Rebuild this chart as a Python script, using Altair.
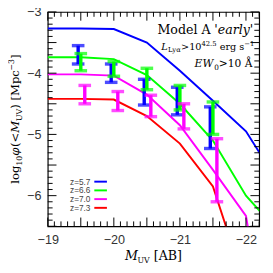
import altair as alt
import pandas as pd
import numpy as np

# ---------------- data ----------------
z_names = ["z=5.7", "z=6.6", "z=7.0", "z=7.3"]
colors = ["#0000ff", "#00ff00", "#ff00ff", "#ff0000"]

M_model = [-19.0, -19.5, -20.0, -20.5, -21.0, -21.5, -22.0, -22.5]
phi_z57 = [-3.27, -3.27, -3.28, -3.50, -3.96, -4.45, -4.95, -5.80]
phi_z66 = [-3.74, -3.74, -3.77, -4.03, -4.50, -5.10, -6.00, -6.60]
phi_z70 = [-4.02, -4.02, -4.04, -4.35, -4.85, -5.58, -6.33, -9.50]
phi_z73 = [-4.42, -4.42, -4.43, -4.70, -5.15, -5.85, -7.50, -9.50]

obs_M_z57 = [-19.46, -19.96, -20.46, -20.96, -21.46]
obs_lo_z57 = [-3.85, -4.15, -4.52, -4.68, -5.23]
obs_hi_z57 = [-3.55, -3.85, -4.10, -4.23, -4.55]

obs_M_z66 = [-19.50, -20.00, -20.50, -21.00, -21.50]
obs_lo_z66 = [-3.96, -4.05, -4.27, -4.60, -5.00]
obs_hi_z66 = [-3.68, -3.81, -3.92, -4.20, -4.47]

obs_M_z70 = [-19.56, -20.06, -20.56, -21.06, -21.56]
obs_lo_z70 = [-4.50, -4.61, -4.71, -4.91, -6.10]
obs_hi_z70 = [-4.20, -4.30, -4.36, -4.50, -5.07]

x_tick_labels = [-19, -20, -21, -22]
y_tick_labels = [-3, -4, -5, -6]

# ---------------- layout ----------------
W, H = 218, 221
SERIF = "DejaVu Serif"
SANS = "Liberation Sans"

xs = alt.Scale(domain=[-22.2, -19], reverse=True, nice=False, zero=False)
ys = alt.Scale(domain=[-6.5, -3], nice=False, zero=False)

x_axis = alt.Axis(values=x_tick_labels, ticks=False, domain=False, grid=False, title=None,
                  labelFont=SANS, labelFontSize=13, labelColor="#333", labelPadding=8,
                  labelFlush=False, format="d")
y_axis = alt.Axis(values=y_tick_labels, ticks=False, domain=False, grid=False, title=None,
                  labelFont=SANS, labelFontSize=13, labelColor="#333", labelPadding=7,
                  labelFlushOffset=-1.5, format="d")


def X(f):
    return alt.X(f, type="quantitative", scale=xs, axis=x_axis)


def Y(f):
    return alt.Y(f, type="quantitative", scale=ys, axis=y_axis)


color_scale = alt.Scale(domain=z_names, range=colors)

# model lines
rows = []
for name, vals in zip(z_names, [phi_z57, phi_z66, phi_z70, phi_z73]):
    for m, p in zip(M_model, vals):
        rows.append({"M": m, "phi": p, "z": name})
df_lines = pd.DataFrame(rows)

lines = alt.Chart(df_lines).mark_line(clip=True, strokeWidth=2).encode(
    x=X("M"), y=Y("phi"),
    color=alt.Color("z:N", scale=color_scale, legend=None),
    order=alt.Order("M:Q", sort="descending"),
)

# error bars
layers = [lines]
for name, col, mm, lo, hi in [
    (z_names[0], colors[0], obs_M_z57, obs_lo_z57, obs_hi_z57),
    (z_names[1], colors[1], obs_M_z66, obs_lo_z66, obs_hi_z66),
    (z_names[2], colors[2], obs_M_z70, obs_lo_z70, obs_hi_z70),
]:
    d = pd.DataFrame({"M": mm, "lo": lo, "hi": hi})
    layers.append(alt.Chart(d).mark_rule(color=col, strokeWidth=3.5).encode(
        x=X("M"), y=Y("lo"), y2="hi"))
    layers.append(alt.Chart(d).mark_tick(color=col, orient="horizontal", size=13, thickness=3.5).encode(
        x=X("M"), y=Y("lo")))
    layers.append(alt.Chart(d).mark_tick(color=col, orient="horizontal", size=13, thickness=3.5).encode(
        x=X("M"), y=Y("hi")))

# ticks (inward, all four sides)
xt = np.round(np.arange(-19.0, -22.21, -0.1), 1)
yt = np.round(np.arange(-6.5, -2.99, 0.1), 1)
def is_major(v):
    return abs(v * 2 - round(v * 2)) < 1e-6
xt_major = pd.DataFrame({"v": [v for v in xt if is_major(v)]})
xt_minor = pd.DataFrame({"v": [v for v in xt if not is_major(v)]})
yt_major = pd.DataFrame({"v": [v for v in yt if is_major(v)]})
yt_minor = pd.DataFrame({"v": [v for v in yt if not is_major(v)]})

for d, ln in [(xt_major, 9), (xt_minor, 5)]:
    layers.append(alt.Chart(d).mark_rule(color="black", strokeWidth=1).encode(
        x=X("v"), y=alt.value(H), y2=alt.value(H - ln)))
    layers.append(alt.Chart(d).mark_rule(color="black", strokeWidth=1).encode(
        x=X("v"), y=alt.value(0), y2=alt.value(ln)))
for d, ln in [(yt_major, 9), (yt_minor, 5)]:
    layers.append(alt.Chart(d).mark_rule(color="black", strokeWidth=1).encode(
        y=Y("v"), x=alt.value(0), x2=alt.value(ln)))
    layers.append(alt.Chart(d).mark_rule(color="black", strokeWidth=1).encode(
        y=Y("v"), x=alt.value(W), x2=alt.value(W - ln)))

# legend (manual: label left, line right)
leg_y0, leg_dy = 175, 9
for i, (name, col) in enumerate(zip(z_names, colors)):
    yy = leg_y0 + i * leg_dy
    dd = pd.DataFrame({"t": [name]})
    layers.append(alt.Chart(dd).mark_text(font=SANS, fontSize=8.5, color="#444", align="right",
                                          baseline="middle").encode(
        text="t:N", x=alt.value(44), y=alt.value(yy)))
    layers.append(alt.Chart(dd).mark_rule(color=col, strokeWidth=2).encode(
        x=alt.value(48), x2=alt.value(61), y=alt.value(yy)))

# rich-text helper
WID = {' ': .318, '(': .390, ')': .390, '[': .390, ']': .390, '<': .838, '>': .838, '.': .318,
       '−': .838, "'": .275, 'A': .722, 'B': .735, 'E': .730, 'L': .694, 'M': .995, 'U': .872,
       'V': .722, 'W': 1.103, 'a': .596, 'c': .560, 'd': .640, 'e': .592, 'g': .640, 'l': .320,
       'o': .602, 'p': .640, 'r': .478, 's': .513, 'y': .565, 'Å': .722, 'α': .66, 'φ': .75}


def wid(t, s):
    return sum(WID.get(c, .636) for c in t) * s


def rich(pieces, x0, y0, rotate=False):
    out = []
    cum = 0.0
    for t, s, it, sh in pieces:
        lead = len(t) - len(t.lstrip(" "))
        cum += wid(" " * lead, s)
        t2 = t.lstrip(" ")
        dd = pd.DataFrame({"t": [t2]})
        if rotate:
            px, py = x0 - sh, y0 - cum
        else:
            px, py = x0 + cum, y0 - sh
        mk = dict(font=SERIF, fontSize=s, color="black", align="left", baseline="alphabetic")
        if it:
            mk["fontStyle"] = "italic"
        if rotate:
            mk["angle"] = 270
        out.append(alt.Chart(dd).mark_text(**mk).encode(text="t:N", x=alt.value(px), y=alt.value(py)))
        cum += wid(t2, s)
    return out, cum


def rich_right(pieces, xr, y0):
    tot = sum(wid(t, s) for t, s, _, _ in pieces)
    return rich(pieces, xr - tot, y0)[0]


layers += rich_right([("Model A ", 13, False, 0), ("'early'", 13, True, 0)], 212, 23)
layers += rich_right([("L", 10, True, 0), ("Lyα", 7, False, -2.5), (">10", 10, False, 0),
                      ("42.5", 7, False, 4), (" erg s", 10, False, 0), ("−1", 7, False, 4)], 213, 39)
layers += rich_right([("EW", 11, True, 0), ("0", 7.5, False, -2.5), (">10 Å", 11, False, 0)], 211, 57)

# axis titles
xt_pieces = [("M", 13, True, 0), ("UV", 8, False, -3), (" [AB]", 13, False, 0)]
xt_w = sum(wid(t, s) for t, s, _, _ in xt_pieces)
layers += rich(xt_pieces, W / 2 - xt_w / 2, 256)[0]

yt_pieces = [("log", 12, False, 0), ("10", 8, False, -3), ("φ", 12, True, 0), ("(<", 12, False, 0),
             ("M", 12, True, 0), ("UV", 8, False, -3), (") [Mpc", 12, False, 0),
             ("−3", 8, False, 5), ("]", 12, False, 0)]
yt_w = sum(wid(t, s) for t, s, _, _ in yt_pieces)
layers += rich(yt_pieces, -30, H / 2 + yt_w / 2, rotate=True)[0]

chart = alt.layer(*layers).properties(
    width=W, height=H,
    autosize=alt.AutoSizeParams(type="none"),
    padding={"left": 41, "top": 0, "right": 6, "bottom": 40},
).configure_view(stroke="black", strokeWidth=1.2)

chart.save("out.html", embed_options={"renderer": "svg", "actions": False})
